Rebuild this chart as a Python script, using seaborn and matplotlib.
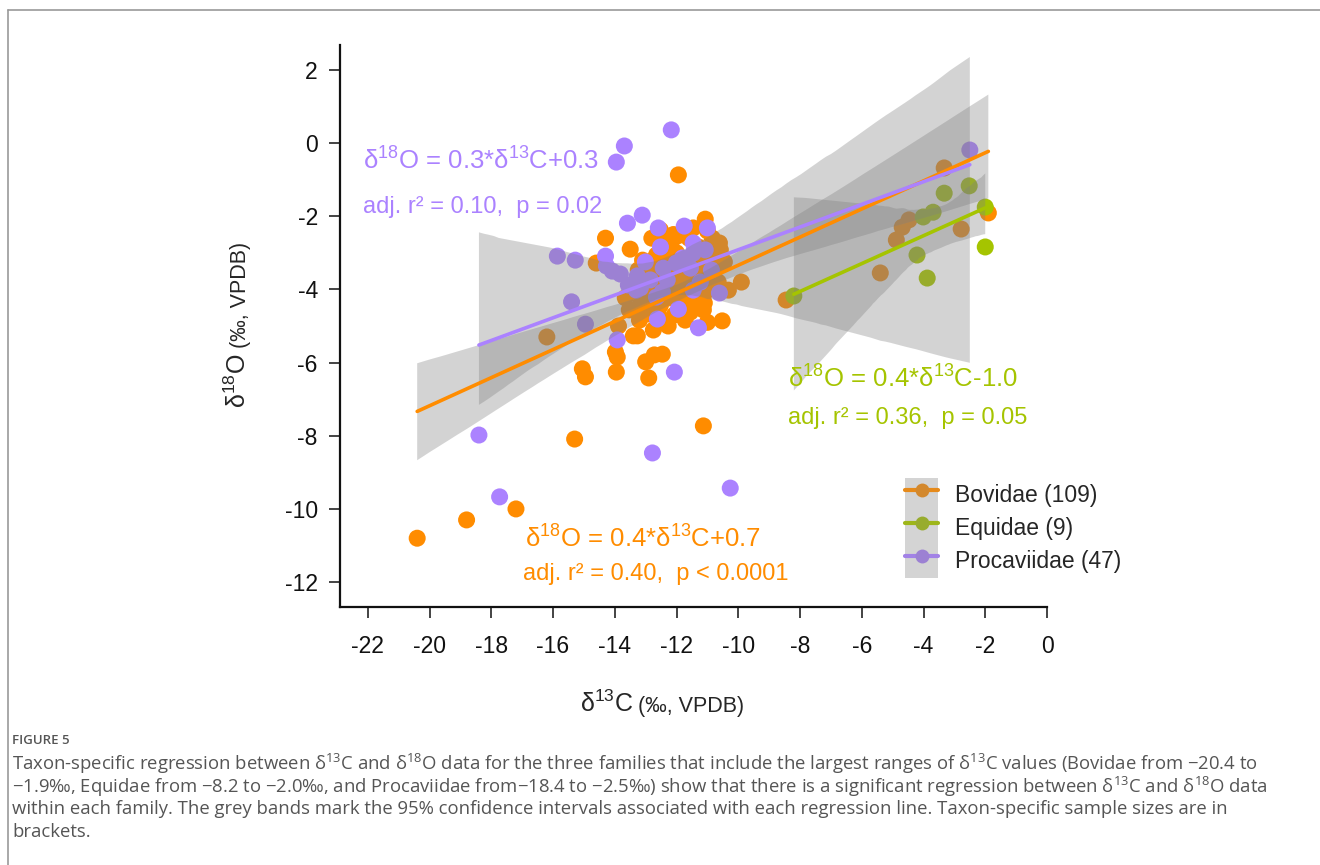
import numpy as np
import pandas as pd
import matplotlib
matplotlib.use("Agg")
import matplotlib.pyplot as plt
import seaborn as sns
from matplotlib.lines import Line2D
from matplotlib.patches import Patch
from matplotlib.legend_handler import HandlerTuple
import matplotlib.colors as mcolors

# ---------------- data ----------------
families = ["Bovidae", "Equidae", "Procaviidae"]
sample_sizes = [109, 9, 47]

bovidae_d13c = [
    -20.4, -18.8, -17.2, -16.2, -15.05, -14.95, -15.3, -13.98, -13.95, -13.92,
    -13.88, -14.3, -14.6, -13.5, -13.0, -12.9, -12.72, -12.46, -12.75, -13.27,
    -13.4, -13.2, -12.27, -11.94, -11.13, -9.9, -10.52, -8.45, -5.4, -4.88,
    -4.69, -4.47, -3.33, -2.78, -1.9,
    -12.52, -12.36, -12.17, -11.97, -11.46, -11.07, -11.0, -11.39, -10.61, -10.58,
    -10.74, -10.81, -11.07, -11.23, -11.62, -11.68, -12.01, -11.55, -11.13, -11.10,
    -11.72, -12.23, -12.52, -12.85, -13.01, -13.17, -13.33, -12.69, -12.78, -12.65,
    -13.01, -13.24, -12.27, -11.88, -11.78, -11.39, -11.33, -11.0, -10.84, -10.45,
    -10.65, -10.32, -12.27, -11.68, -12.10, -12.43, -12.91, -12.43, -12.07, -13.53,
    -13.66, -13.17, -12.30, -11.94, -11.29, -10.84,
    -12.6, -12.0, -11.5, -11.8, -12.4, -12.9, -11.2, -10.9, -12.2, -11.6,
    -12.8, -13.1, -11.0, -12.6, -10.7, -11.4, -12.1, -13.4,
]
bovidae_d18o = [
    -10.8, -10.3, -10.0, -5.3, -6.17, -6.39, -8.09, -5.71, -6.26, -5.85,
    -5.0, -2.6, -3.28, -2.9, -5.98, -6.42, -5.79, -5.77, -5.11, -5.27,
    -5.27, -4.84, -5.0, -0.87, -7.73, -3.8, -4.86, -4.29, -3.55, -2.65,
    -2.3, -2.1, -0.68, -2.35, -1.91,
    -2.38, -2.65, -2.84, -2.54, -2.32, -2.08, -2.40, -2.98, -2.73, -2.92,
    -3.44, -3.77, -4.07, -3.61, -3.66, -4.13, -4.26, -4.62, -4.56, -4.37,
    -4.84, -4.23, -4.43, -4.29, -4.07, -4.40, -4.04, -3.74, -3.42, -3.06,
    -3.52, -3.47, -3.47, -3.61, -3.88, -3.83, -3.36, -3.20, -2.98, -3.25,
    -3.80, -4.02, -3.14, -3.25, -3.88, -3.96, -4.67, -4.84, -4.70, -4.56,
    -4.23, -3.74, -2.79, -3.25, -2.84, -2.60,
    -3.3, -3.0, -3.5, -4.3, -4.1, -3.9, -4.1, -3.6, -3.6, -2.6,
    -2.6, -3.2, -4.9, -4.6, -3.1, -4.4, -2.5, -3.9,
]

equidae_d13c = [-8.2, -4.21, -3.88, -4.01, -3.69, -3.33, -2.52, -2.0, -2.0]
equidae_d18o = [-4.18, -3.06, -3.69, -2.02, -1.89, -1.37, -1.17, -1.75, -2.84]

procaviidae_d13c = [
    -12.17, -13.69, -13.95, -13.59, -13.11, -15.86, -15.28, -14.27, -14.08, -14.30,
    -13.82, -15.40, -14.95, -13.92, -18.4, -17.73, -12.78, -10.26, -12.07, -11.29,
    -10.61, -12.62, -13.17, -12.52, -12.59, -11.75, -11.00, -11.46, -11.46, -12.01,
    -12.43, -12.85, -13.30, -12.46, -11.94, -11.23, -10.87, -2.5, -11.55, -13.01,
    -11.81, -12.30, -13.27, -11.46, -12.65, -11.07, -13.56,
]
procaviidae_d18o = [
    0.36, -0.08, -0.52, -2.19, -1.97, -3.09, -3.20, -3.36, -3.50, -3.09,
    -3.58, -4.34, -4.95, -5.38, -7.98, -9.67, -8.47, -9.43, -6.26, -5.05,
    -4.10, -4.81, -3.96, -2.84, -2.32, -2.27, -2.32, -2.73, -3.01, -3.28,
    -3.42, -3.74, -4.02, -4.07, -4.54, -3.80, -3.47, -0.19, -3.42, -3.25,
    -3.14, -3.74, -3.63, -4.02, -4.21, -2.92, -3.88,
]

equations = [
    "δ$^{18}$O = 0.4*δ$^{13}$C+0.7",
    "δ$^{18}$O = 0.4*δ$^{13}$C-1.0",
    "δ$^{18}$O = 0.3*δ$^{13}$C+0.3",
]
fit_stats = [
    "adj. r² = 0.40,  p < 0.0001",
    "adj. r² = 0.36,  p = 0.05",
    "adj. r² = 0.10,  p = 0.02",
]
x_ticks = list(range(-22, 1, 2))
y_ticks = list(range(-12, 3, 2))

caption_title = "FIGURE 5"
caption_lines = [
    "Taxon-specific regression between δ$^{13}$C and δ$^{18}$O data for the three families that include the largest ranges of δ$^{13}$C values (Bovidae from −20.4 to",
    "−1.9‰, Equidae from −8.2 to −2.0‰, and Procaviidae from−18.4 to −2.5‰) show that there is a significant regression between δ$^{13}$C and δ$^{18}$O data",
    "within each family. The grey bands mark the 95% confidence intervals associated with each regression line. Taxon-specific sample sizes are in",
    "brackets.",
]

# ---------------- styling ----------------
sns.set_theme(style="ticks")
plt.rcParams["font.family"] = ["Liberation Sans", "DejaVu Sans"]
plt.rcParams["mathtext.default"] = "regular"
plt.rcParams["axes.unicode_minus"] = False

palette = {"Bovidae": "#FF8C00", "Equidae": "#A5C400", "Procaviidae": "#AB82FF"}

W, H = 1320, 865
def fx(px):
    return px / W
def fy(py):
    return 1 - py / H

fig = plt.figure(figsize=(W / 100, H / 100), dpi=100)
ax = fig.add_axes([fx(340), fy(607), (1047 - 340) / W, (607 - 45) / H])

df = pd.concat([
    pd.DataFrame({"family": "Bovidae", "d13C": bovidae_d13c, "d18O": bovidae_d18o}),
    pd.DataFrame({"family": "Equidae", "d13C": equidae_d13c, "d18O": equidae_d18o}),
    pd.DataFrame({"family": "Procaviidae", "d13C": procaviidae_d13c, "d18O": procaviidae_d18o}),
], ignore_index=True)

sns.scatterplot(data=df, x="d13C", y="d18O", hue="family", hue_order=families,
                palette=palette, s=150, linewidth=0, legend=False, ax=ax, zorder=1)

for i, fam in enumerate(families):
    sub = df[df["family"] == fam]
    n0 = len(ax.collections)
    sns.regplot(data=sub, x="d13C", y="d18O", scatter=False, ci=95, n_boot=2000,
                seed=1, color=palette[fam], line_kws=dict(lw=2.6), ax=ax)
    for coll in ax.collections[n0:]:
        coll.set_facecolor("#808080")
        coll.set_alpha(0.34)
        coll.set_edgecolor("none")
        coll.set_zorder(1.5)

ax.set_xlim(-22.9, 0)
ax.set_ylim(-12.68, 2.68)
ax.set_xticks(x_ticks)
ax.set_yticks(y_ticks)
ax.set_xlabel("")
ax.set_ylabel("")
sns.despine(ax=ax)
for sp in ["left", "bottom"]:
    ax.spines[sp].set_linewidth(1.6)
    ax.spines[sp].set_color("#111111")
ax.tick_params(axis="both", direction="out", length=8, width=1.1, colors="#111111",
               labelsize=16.5)
ax.tick_params(axis="x", pad=12)
ax.tick_params(axis="y", pad=8)

# equations
eq_pos = {"Bovidae": ((525, 548), (523, 580)),
          "Equidae": ((788, 388), (788, 424)),
          "Procaviidae": ((363, 170), (363, 213))}
for fam, eq, st in zip(families, equations, fit_stats):
    (x1, y1), (x2, y2) = eq_pos[fam]
    fig.text(fx(x1), fy(y1), eq, color=palette[fam], fontsize=18.5, va="baseline", ha="left")
    fig.text(fx(x2), fy(y2), st, color=palette[fam], fontsize=17, va="baseline", ha="left")

# legend
def mix(c, g, a):
    c = np.array(mcolors.to_rgb(c)); g = np.array(mcolors.to_rgb(g))
    return tuple(c * (1 - a) + g * a)

handles = []
for fam in families:
    c = palette[fam]
    ln = Line2D([], [], color=mix(c, "#808080", 0.2), lw=3, marker="o", markersize=10,
                markerfacecolor=mix(c, "#808080", 0.35), markeredgewidth=0)
    pt = Patch(facecolor="#D4D4D4", edgecolor="none")
    handles.append((pt, ln))
labels = [f"{f} ({n})" for f, n in zip(families, sample_sizes)]
ax.legend(handles, labels, handler_map={tuple: HandlerTuple(ndivide=1, pad=0)},
          loc="upper left", bbox_to_anchor=(fx(905), fy(478)), bbox_transform=fig.transFigure,
          frameon=False, fontsize=16.5, handlelength=1.45, handleheight=1.85,
          labelspacing=0, handletextpad=0.75, borderpad=0, borderaxespad=0)

# axis labels (two sizes)
renderer = fig.canvas.get_renderer()
xl1 = fig.text(fx(580), fy(712), "δ$^{13}$C", fontsize=18, va="baseline", ha="left")
bb = xl1.get_window_extent(renderer)
fig.text(fx(bb.x1 + 5), fy(712), "(‰, VPDB)", fontsize=15.5, va="baseline", ha="left")

yl1 = fig.text(fx(246), fy(408), "δ$^{18}$O", fontsize=18, va="baseline", ha="left",
               rotation=90, rotation_mode="anchor")
bb = yl1.get_window_extent(renderer)
fig.text(fx(246), bb.y1 / H + 5 / H, "(‰, VPDB)", fontsize=15.5, va="baseline", ha="left",
         rotation=90, rotation_mode="anchor")

# caption
cap_font = ["Open Sans", "DejaVu Sans"]
fig.text(fx(12), fy(741), caption_title, fontsize=9.5, color="#555555", family=cap_font,
         va="center", ha="left", fontweight="semibold")
for k, line in enumerate(caption_lines):
    fig.text(fx(12), fy(764 + 22.6 * k), line, fontsize=13.3, color="#555555",
             family=cap_font, va="center", ha="left")

# frame (top and left rules)
fig.add_artist(Line2D([fx(8), 1], [fy(10), fy(10)], transform=fig.transFigure,
                      color="#999999", lw=1.2))
fig.add_artist(Line2D([fx(8), fx(8)], [0, fy(10)], transform=fig.transFigure,
                      color="#999999", lw=1.2))

fig.savefig("out.png", dpi=100)
